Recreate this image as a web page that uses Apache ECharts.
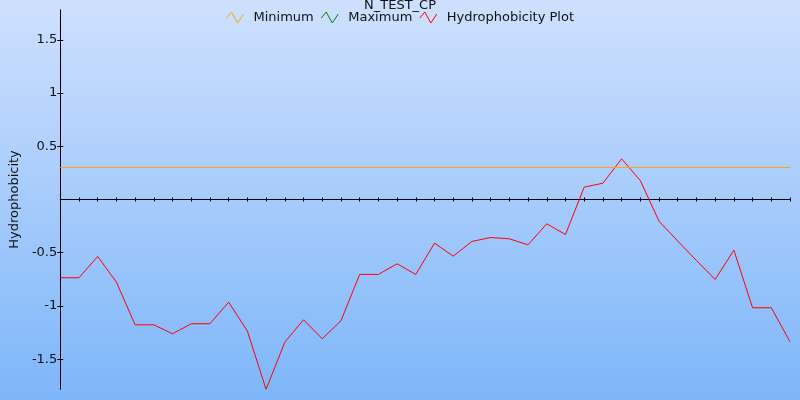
<!DOCTYPE html>
<html>
<head>
<meta charset="utf-8">
<script src="https://cdn.jsdelivr.net/npm/echarts@6/dist/echarts.min.js"></script>
<style>
html,body{margin:0;padding:0;}
#chart{width:800px;height:400px;}
</style>
</head>
<body>
<div id="chart"></div>
<script>
// ---- data ----
const titleText = "N_TEST_CP";
const yAxisName = "Hydrophobicity";
const seriesNames = ["Minimum", "Maximum", "Hydrophobicity Plot"];
const positions = [
  1,2,3,4,5,6,7,8,9,10,11,12,13,14,15,16,17,18,19,20,
  21,22,23,24,25,26,27,28,29,30,31,32,33,34,35,36,37,38,39,40
];
const hydrophobicity = [
  -0.735, -0.735, -0.535, -0.776, -1.177, -1.177, -1.261, -1.167, -1.167, -0.964,
  -1.236, -1.784, -1.340, -1.130, -1.308, -1.140, -0.704, -0.704, -0.604, -0.704,
  -0.410, -0.532, -0.394, -0.357, -0.369, -0.426, -0.228, -0.329, 0.116, 0.153,
  0.382, 0.178, -0.204, -0.390, -0.573, -0.751, -0.476, -1.017, -1.017, -1.336
];
const minimumLevel = 0.30;
const yMin = -1.78;
const yMax = 1.78;
const yTickValues = [-1.5, -1, -0.5, 0.5, 1, 1.5];

// ---- chart ----
const chart = echarts.init(document.getElementById('chart'));
const FONT = 'DejaVu Sans';
const zig = 'path://M0,6 L5,0 L11,11 L17,2';
const colors = ['#ffa500', '#008000', '#ff0000'];

function makeX(inside) {
  return {
    type: 'category',
    data: positions,
    boundaryGap: false,
    position: 'bottom',
    axisLine: { show: true, onZero: true, lineStyle: { color: '#000', width: 1 } },
    axisTick: { show: true, inside: inside, length: 2, interval: 0, lineStyle: { color: '#000' } },
    axisLabel: { show: false },
    splitLine: { show: false }
  };
}
function makeY(inside, main) {
  return {
    type: 'value',
    min: yMin,
    max: yMax,
    position: 'left',
    name: main ? yAxisName : '',
    nameLocation: 'middle',
    nameGap: 36,
    nameTextStyle: { fontFamily: FONT, fontSize: 13, color: '#111' },
    axisLine: { show: true, onZero: false, lineStyle: { color: '#000', width: 1 } },
    axisTick: { show: true, inside: inside, length: 3, customValues: yTickValues, lineStyle: { color: '#000' } },
    axisLabel: {
      show: main,
      customValues: yTickValues,
      margin: 3,
      fontFamily: FONT, fontSize: 13, color: '#111',
      formatter: v => String(v)
    },
    splitLine: { show: false }
  };
}

chart.setOption({
  animation: false,
  backgroundColor: {
    type: 'linear', x: 0, y: 0, x2: 0, y2: 1,
    colorStops: [
      { offset: 0, color: '#cfe0fe' },
      { offset: 1, color: '#7db6f9' }
    ]
  },
  title: {
    text: titleText,
    left: 'center',
    top: -1,
    padding: 0,
    textStyle: { fontFamily: FONT, fontSize: 13, fontWeight: 'normal', color: '#111' }
  },
  legend: {
    left: 226,
    top: 11,
    padding: 0,
    itemWidth: 17,
    itemHeight: 11,
    itemGap: 7,
    textStyle: { fontFamily: FONT, fontSize: 13, color: '#111', padding: [2, 0, 0, 5] },
    data: seriesNames.map((n, i) => ({
      name: n,
      icon: zig,
      itemStyle: { color: 'rgba(0,0,0,0)', borderColor: colors[i], borderWidth: 1 }
    }))
  },
  grid: { left: 59, right: 10, top: 10, bottom: 11, containLabel: false },
  xAxis: [makeX(true), makeX(false)],
  yAxis: [makeY(false, true), makeY(true, false)],
  series: [
    {
      name: seriesNames[0],
      type: 'line',
      xAxisIndex: 0, yAxisIndex: 0,
      data: [],
      color: colors[0],
      showSymbol: false,
      markLine: {
        silent: true,
        symbol: 'none',
        label: { show: false },
        lineStyle: { color: colors[0], width: 1, type: 'solid' },
        emphasis: { disabled: true },
        data: [{ yAxis: minimumLevel }]
      }
    },
    {
      name: seriesNames[1],
      type: 'line',
      xAxisIndex: 0, yAxisIndex: 0,
      data: [],
      color: colors[1],
      showSymbol: false
    },
    {
      name: seriesNames[2],
      type: 'line',
      xAxisIndex: 0, yAxisIndex: 0,
      data: hydrophobicity,
      color: colors[2],
      showSymbol: false,
      symbol: 'none',
      lineStyle: { color: colors[2], width: 1 }
    }
  ]
});
</script>
</body>
</html>
